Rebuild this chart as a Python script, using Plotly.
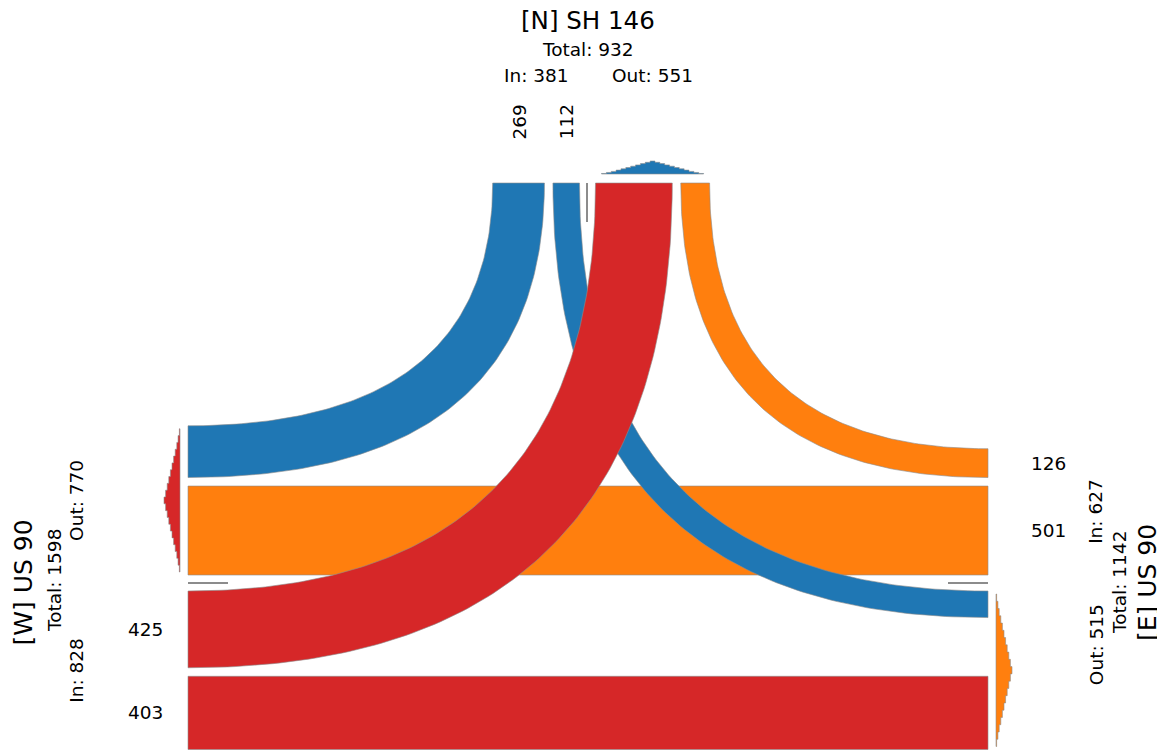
import plotly.graph_objects as go

# ---------------- data ----------------
legs = ["N", "W", "E"]
leg_titles = ["[N] SH 146", "[W] US 90", "[E] US 90"]
leg_colors = ["#1f77b4", "#d62728", "#ff7f0e"]

move_from = ["N", "N", "W", "W", "E", "E"]
move_to = ["W", "E", "N", "E", "N", "W"]
move_volume = [269, 112, 425, 403, 126, 501]

# relative heights of the small profile glyph beside each leg
glyph_profile = [0.04, 0.12, 0.2, 0.3, 0.4, 0.5, 0.6, 0.7, 0.8, 0.9, 1.0,
                 0.9, 0.8, 0.7, 0.6, 0.5, 0.4, 0.3, 0.2, 0.12, 0.04]

# ---------------- layout constants (pixels) ----------------
PAGE_W, PAGE_H = 1165, 753
BODY = 8  # default page margin around the figure
X_W, X_E, Y_N = 188, 988, 183
CX, CY = 587.5, 583
GAP_C, GAP = 8, 8.5
W0, K = 8.6, 0.1604
FONT = "DejaVu Sans"
EDGE = "rgba(140,140,140,0.6)"

color_of = dict(zip(legs, leg_colors))
title_of = dict(zip(legs, leg_titles))
vol = {(f, t): v for f, t, v in zip(move_from, move_to, move_volume)}


def width(v):
    return W0 + K * v


def stack(start, sign, keys):
    spans = {}
    pos = start
    for k in keys:
        w = width(vol[k])
        a, b = pos, pos + sign * w
        spans[k] = (min(a, b), max(a, b))
        pos = b + sign * GAP
    return spans


n_in = stack(CX - GAP_C, -1, [("N", "E"), ("N", "W")])
n_out = stack(CX + GAP_C, +1, [("W", "N"), ("E", "N")])
w_out = stack(CY - GAP_C, -1, [("E", "W"), ("N", "W")])
w_in = stack(CY + GAP_C, +1, [("W", "N"), ("W", "E")])
e_in = stack(CY - GAP_C, -1, [("E", "W"), ("E", "N")])
e_out_stack = stack(CY + GAP_C, +1, [("N", "E"), ("W", "E")])
e_out = {("N", "E"): e_out_stack[("N", "E")], ("W", "E"): w_in[("W", "E")]}


def bezier(p0, p1, p2, n=120):
    pts = []
    for i in range(n + 1):
        t = i / n
        a, b, c = (1 - t) ** 2, 2 * t * (1 - t), t ** 2
        pts.append((a * p0[0] + b * p1[0] + c * p2[0], a * p0[1] + b * p1[1] + c * p2[1]))
    return pts


def turn_poly(xspan, yspan, xc):
    xs = sorted(xspan, key=lambda x: abs(x - xc))
    ys = sorted(yspan, key=lambda y: abs(y - Y_N))
    e1 = bezier((xs[0], Y_N), (xs[0], ys[0]), (xc, ys[0]))
    e2 = bezier((xs[1], Y_N), (xs[1], ys[1]), (xc, ys[1]))
    pts = e1 + e2[::-1] + [e1[0]]
    return [p[0] for p in pts], [p[1] for p in pts]


def rect_poly(yspan):
    y0, y1 = yspan
    return [X_W, X_E, X_E, X_W, X_W], [y0, y0, y1, y1, y0]


band_geom = {
    ("N", "W"): turn_poly(n_in[("N", "W")], w_out[("N", "W")], X_W),
    ("N", "E"): turn_poly(n_in[("N", "E")], e_out[("N", "E")], X_E),
    ("W", "N"): turn_poly(n_out[("W", "N")], w_in[("W", "N")], X_W),
    ("E", "N"): turn_poly(n_out[("E", "N")], e_in[("E", "N")], X_E),
    ("W", "E"): rect_poly(w_in[("W", "E")]),
    ("E", "W"): rect_poly(e_in[("E", "W")]),
}

fig = go.Figure()

# draw order: from E (orange), then N (blue), then W (red) on top
for leg in ["E", "N", "W"]:
    for (f, t), (xs, ys) in band_geom.items():
        if f != leg:
            continue
        fig.add_trace(go.Scatter(x=xs, y=ys, mode="lines", fill="toself",
                                 fillcolor=color_of[f], line=dict(color=EDGE, width=1),
                                 hoverinfo="skip", showlegend=False))

# centre markers
for xs, ys in [([X_W, X_W + 40], [CY, CY]), ([X_E - 40, X_E], [CY, CY]), ([CX - 0.5, CX - 0.5], [Y_N, Y_N + 39])]:
    fig.add_trace(go.Scatter(x=xs, y=ys, mode="lines", line=dict(color="#8c8c8c", width=2),
                             hoverinfo="skip", showlegend=False))


# profile glyphs beside each leg's outbound lanes
def glyph(span, base, sign, height, vertical):
    s0, s1 = span
    n = len(glyph_profile)
    d = (s1 - s0) / n
    along, across = [s0], [base]
    for i, p in enumerate(glyph_profile):
        along += [s0 + i * d, s0 + (i + 1) * d]
        across += [base + sign * height * p] * 2
    along += [s1, s0]
    across += [base, base]
    return (across, along) if vertical else (along, across)


def span_of(d, inset):
    lo = min(v[0] for v in d.values())
    hi = max(v[1] for v in d.values())
    return lo + inset, hi - inset


glyphs = [
    ("W", glyph(span_of(w_out, 3), X_W - 8, -1, 16, True)),
    ("N", glyph(span_of(n_out, 6), Y_N - 9, -1, 13, False)),
    ("E", glyph(span_of(e_out, 3), X_E + 8, +1, 16, True)),
]
for leg, (gx, gy) in glyphs:
    fig.add_trace(go.Scatter(x=gx, y=gy, mode="lines", fill="toself", fillcolor=color_of[leg],
                             line=dict(color=EDGE, width=1), hoverinfo="skip", showlegend=False))

# ---------------- text ----------------
ann = []


def text(x, y, s, size=18.5, angle=0):
    ann.append(dict(x=x, y=y, text=s, showarrow=False, xanchor="center", yanchor="middle",
                    textangle=angle, font=dict(family=FONT, size=size, color="#000000")))


def mid(d):
    lo = min(v[0] for v in d.values())
    hi = max(v[1] for v in d.values())
    return (lo + hi) / 2


tot_in = {l: sum(v for (f, t), v in vol.items() if f == l) for l in legs}
tot_out = {l: sum(v for (f, t), v in vol.items() if t == l) for l in legs}

# North
text(CX, 20, title_of["N"], 24.5)
text(CX, 49.5, f"Total: {tot_in['N'] + tot_out['N']}")
text(mid(n_in), 75, f"In: {tot_in['N']}")
text(mid(n_out), 75, f"Out: {tot_out['N']}")
for k, (a, b) in n_in.items():
    text((a + b) / 2, 122, str(vol[k]), angle=-90)

# West
text(22.5, CY, title_of["W"], 25, -90)
text(54, CY - 2, f"Total: {tot_in['W'] + tot_out['W']}", angle=-90)
text(76.5, mid(w_in), f"In: {tot_in['W']}", angle=-90)
text(76.5, mid(w_out), f"Out: {tot_out['W']}", angle=-90)
for k, (a, b) in w_in.items():
    text(X_W - 43, (a + b) / 2, str(vol[k]))

# East
text(1147, CY, title_of["E"], 25, -90)
text(1119, CY, f"Total: {tot_in['E'] + tot_out['E']}", angle=-90)
text(1096, mid(e_in), f"In: {tot_in['E']}", angle=-90)
text(1096, mid(e_out_stack), f"Out: {tot_out['E']}", angle=-90)
for k, (a, b) in e_in.items():
    text(X_E + 60, (a + b) / 2, str(vol[k]))

# the figure sits BODY px from the page corner; axes map data units to page pixels
fig.update_layout(
    width=PAGE_W - BODY, height=PAGE_H - BODY,
    margin=dict(l=0, r=0, t=0, b=0, pad=0),
    paper_bgcolor="white", plot_bgcolor="white",
    xaxis=dict(range=[BODY, PAGE_W], visible=False, fixedrange=True),
    yaxis=dict(range=[PAGE_H, BODY], visible=False, fixedrange=True),
    annotations=ann,
    showlegend=False,
)

fig.write_html("out.html")
